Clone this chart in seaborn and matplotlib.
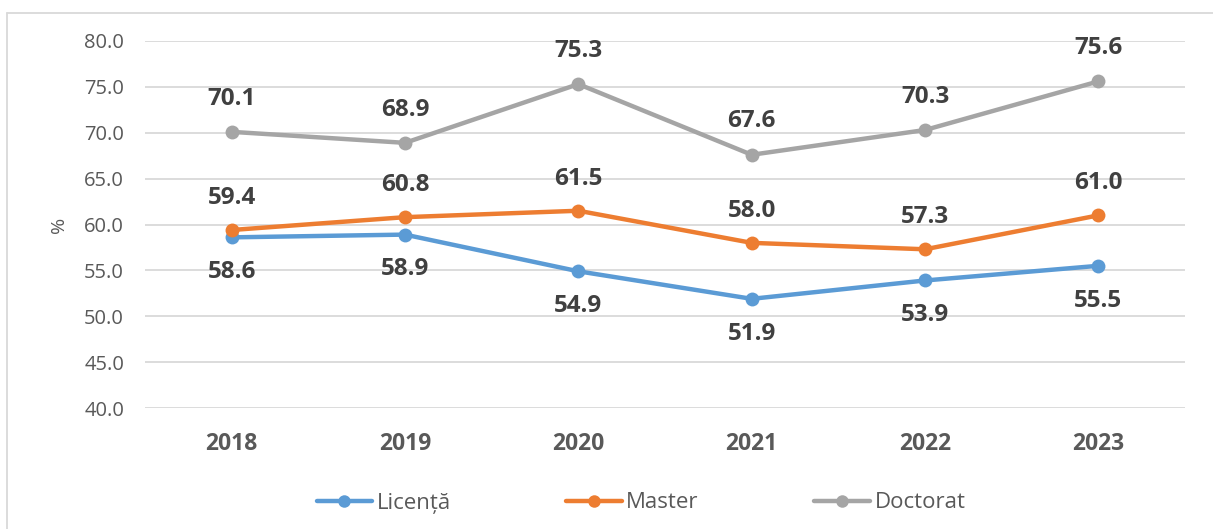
import matplotlib
matplotlib.use("Agg")
import matplotlib.pyplot as plt
import seaborn as sns
import pandas as pd
from matplotlib.lines import Line2D

years = ["2018", "2019", "2020", "2021", "2022", "2023"]
licenta = [58.6, 58.9, 54.9, 51.9, 53.9, 55.5]
master = [59.4, 60.8, 61.5, 58.0, 57.3, 61.0]
doctorat = [70.1, 68.9, 75.3, 67.6, 70.3, 75.6]
series_names = ["Licență", "Master", "Doctorat"]
y_ticks = [40, 45, 50, 55, 60, 65, 70, 75, 80]

colors = {"Licență": "#5B9BD5", "Master": "#ED7D31", "Doctorat": "#A5A5A5"}
label_offsets = {"Licență": -25, "Master": 23, "Doctorat": 24}

rows = []
for name, vals in zip(series_names, [licenta, master, doctorat]):
    for i, (yr, v) in enumerate(zip(years, vals)):
        rows.append({"pos": i, "year": yr, "value": v, "series": name})
df = pd.DataFrame(rows)

sns.set_theme(style="white")
plt.rcParams["font.family"] = ["Open Sans", "DejaVu Sans"]

fig = plt.figure(figsize=(12.13, 5.29), dpi=100)
ax = fig.add_axes([0.1195, 0.2287, 0.8575, 0.6938])

sns.lineplot(data=df, x="pos", y="value", hue="series", hue_order=series_names,
             palette=colors, marker="o", markersize=10, markeredgewidth=0,
             linewidth=3.2, ax=ax, legend=True)

for name, vals in zip(series_names, [licenta, master, doctorat]):
    for i, v in enumerate(vals):
        ax.annotate(f"{v:.1f}", (i, v), xytext=(0, label_offsets[name]),
                    textcoords="offset points", ha="center", va="center",
                    fontsize=17.5, fontweight="bold", color="#404040")

ax.set_xlim(-0.5, len(years) - 0.5)
ax.set_ylim(40, 80)
ax.set_yticks(y_ticks)
ax.set_yticklabels([f"{t:.1f}" for t in y_ticks], fontsize=14.5, color="#595959")
ax.set_xticks(range(len(years)))
ax.set_xticklabels(years, fontsize=16.5, fontweight="bold", color="#595959")
ax.tick_params(axis="y", length=0, pad=15)
ax.tick_params(axis="x", length=0, pad=17)
ax.yaxis.grid(True, color="#D9D9D9", linewidth=1.3)
ax.set_axisbelow(True)
for s in ax.spines.values():
    s.set_visible(False)
ax.set_xlabel("")
ax.set_ylabel("%", fontsize=14, color="#595959", labelpad=12)

handles, labels = ax.get_legend_handles_labels()
for h in handles:
    h.set_markersize(9)
ax.legend(handles, labels, loc="center", bbox_to_anchor=(641 / 1213, (529 - 503) / 529),
          bbox_transform=fig.transFigure, ncol=3, frameon=False, fontsize=16,
          handlelength=2.5, columnspacing=5.2, handletextpad=0.2,
          labelcolor="#595959")

fig.lines.append(Line2D([7 / 1213, 1.0], [1 - 12.5 / 529, 1 - 12.5 / 529],
                        transform=fig.transFigure, color="#D9D9D9", linewidth=1.3))
fig.lines.append(Line2D([7 / 1213, 7 / 1213], [0.0, 1 - 12.5 / 529],
                        transform=fig.transFigure, color="#D9D9D9", linewidth=1.3))

fig.savefig("out.png", dpi=100)
